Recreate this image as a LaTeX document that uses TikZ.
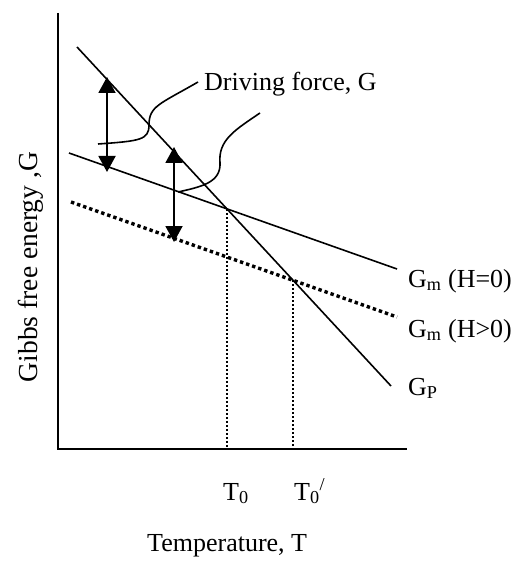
\documentclass[tikz,border=0pt]{standalone}
\usepackage{fontspec}
\setmainfont{Liberation Serif}
\usetikzlibrary{arrows.meta}
\begin{document}
\begin{tikzpicture}[x=1pt,y=-1pt,
  lbl/.style={font=\fontsize{26}{30}\selectfont, inner sep=0pt, anchor=base west},
  plotline/.style={line width=1.6pt},
  leader/.style={line width=1.6pt},
  axis/.style={line width=2pt},
  dblarrow/.style={line width=1.9pt, {Triangle[width=17pt,length=16pt]}-{Triangle[width=17pt,length=16pt]}},
  vdot/.style={line width=2.2pt, dash pattern=on 2pt off 2pt},
  hdot/.style={line width=3.4pt, dash pattern=on 3.4pt off 3pt}]
\useasboundingbox (0,0) rectangle (521,561);
% axes
\coordinate (ytop) at (58,13);
\coordinate (orig) at (58,449);
\coordinate (xend) at (407,449);
\draw[axis] (ytop) -- (orig) -- (xend);
% lines
\coordinate (gp1) at (77,47);
\coordinate (gp2) at (391,386);
\coordinate (ga1) at (69,153);
\coordinate (ga2) at (397,269);
\coordinate (gb1) at (71,202);
\coordinate (gb2) at (397,317);
\draw[plotline] (gp1) -- (gp2);
\draw[plotline] (ga1) -- (ga2);
\draw[hdot] (gb1) -- (gb2);
\coordinate (X1) at (intersection of gp1--gp2 and ga1--ga2);
\coordinate (X2) at (intersection of gp1--gp2 and gb1--gb2);
\draw[vdot] (X1) -- (X1 |- orig);
\draw[vdot] (X2) -- (X2 |- orig);
% driving force arrows
\coordinate (a1t) at (107,77);
\coordinate (a1b) at (107,172);
\coordinate (a2t) at (174,147);
\coordinate (a2b) at (174,242);
\draw[dblarrow] (a1t) -- (a1b);
\draw[dblarrow] (a2t) -- (a2b);
% labels
\node[lbl] (df) at (204,91) {Driving force, G};
\node[lbl] (lga) at (408,287) {G\textsubscript{m} (H=0)};
\node[lbl] (lgb) at (408,337) {G\textsubscript{m} (H>0)};
\node[lbl] (lgp) at (408,395) {G\textsubscript{P}};
\node[lbl] (t0) at (223,500) {T\textsubscript{0}};
\node[lbl] (t0p) at (294,500) {T\textsubscript{0}\textsuperscript{/}};
\node[lbl] (xl) at (147,551) {Temperature, T};
\node[lbl, font=\fontsize{27.5}{30}\selectfont, anchor=base, rotate=90] (yl) at (37,267) {Gibbs free energy ,G};
% leaders
\coordinate (l1s) at (98,144);
\coordinate (l1m) at (149,125);
\coordinate (l1e) at (198,82);
\draw[leader] (l1s) .. controls (140,141) and (149,140) .. (l1m)
  .. controls (149,106) and (160,104) .. (l1e);
\coordinate (l2s) at (178,192);
\coordinate (l2m) at (220,163);
\coordinate (l2e) at (260,113);
\draw[leader] (l2s) .. controls (200,187) and (221,183) .. (l2m)
  .. controls (218,140) and (235,130) .. (l2e);
\end{tikzpicture}
\end{document}
